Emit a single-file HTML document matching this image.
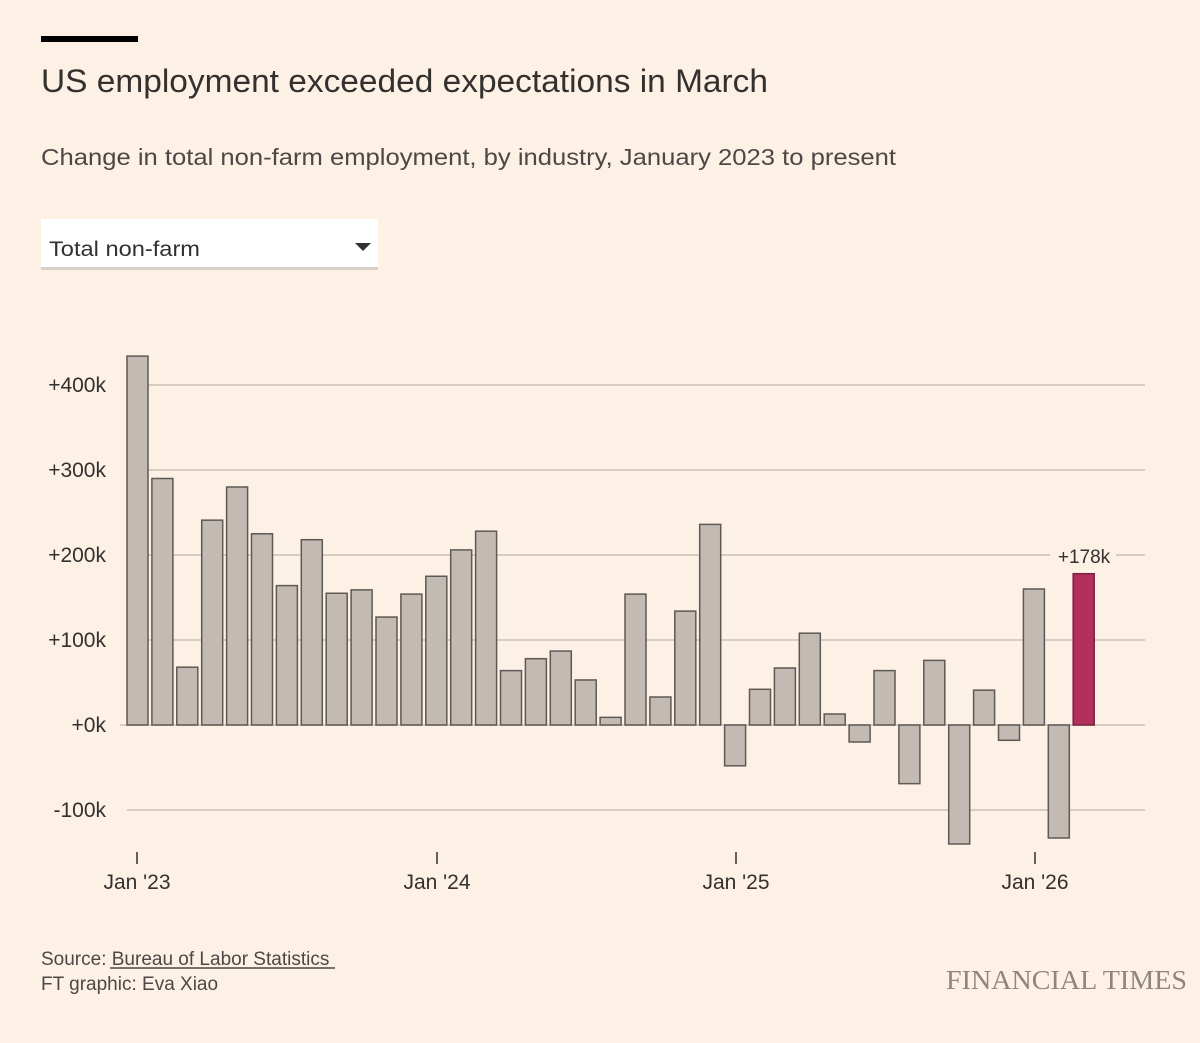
<!DOCTYPE html>
<html><head><meta charset="utf-8"><style>
html,body{margin:0;padding:0;background:#fdf1e6;}
svg{display:block;}
text{font-family:"Liberation Sans",sans-serif;fill:#33302e;}
</style></head><body>
<svg width="1200" height="1043" viewBox="0 0 1200 1043" xmlns="http://www.w3.org/2000/svg">
<rect width="1200" height="1043" fill="#fdf1e6"/>
<rect x="41" y="36" width="97" height="6" fill="#000"/>
<text x="41" y="92" font-size="32" textLength="727" lengthAdjust="spacingAndGlyphs">US employment exceeded expectations in March</text>
<text x="41" y="165" font-size="23" textLength="855" lengthAdjust="spacingAndGlyphs" style="fill:#4d4845">Change in total non-farm employment, by industry, January 2023 to present</text>
<rect x="41" y="220" width="337" height="50" fill="#d8d0c8"/>
<rect x="41" y="219" width="337" height="48" fill="#ffffff"/>
<text x="49" y="256" font-size="21" textLength="151" lengthAdjust="spacingAndGlyphs">Total non-farm</text>
<polygon points="355,243 371,243 363,251" fill="#33302e"/>
<g stroke="#d6ccc2" stroke-width="2">
<line x1="127" y1="385" x2="1145" y2="385"/>
<line x1="127" y1="470" x2="1145" y2="470"/>
<line x1="127" y1="555" x2="1145" y2="555"/>
<line x1="127" y1="640" x2="1145" y2="640"/>
<line x1="120" y1="725" x2="1145" y2="725"/>
<line x1="127" y1="810" x2="1145" y2="810"/>
</g>
<g font-size="21" text-anchor="end">
<text x="106" y="392">+400k</text>
<text x="106" y="477">+300k</text>
<text x="106" y="562">+200k</text>
<text x="106" y="647">+100k</text>
<text x="106" y="732">+0k</text>
<text x="106" y="817">-100k</text>
</g>
<g fill="#c3bbb3" stroke="#5e5954" stroke-width="1.5">
<rect x="127" y="356.1" width="21" height="368.9"/>
<rect x="151.9" y="478.5" width="21" height="246.5"/>
<rect x="176.8" y="667.2" width="21" height="57.8"/>
<rect x="201.7" y="520.15" width="21" height="204.85"/>
<rect x="226.6" y="487" width="21" height="238"/>
<rect x="251.5" y="533.75" width="21" height="191.25"/>
<rect x="276.4" y="585.6" width="21" height="139.4"/>
<rect x="301.3" y="539.7" width="21" height="185.3"/>
<rect x="326.2" y="593.25" width="21" height="131.75"/>
<rect x="351.1" y="589.85" width="21" height="135.15"/>
<rect x="376" y="617.05" width="21" height="107.95"/>
<rect x="400.9" y="594.1" width="21" height="130.9"/>
<rect x="425.8" y="576.25" width="21" height="148.75"/>
<rect x="450.7" y="549.9" width="21" height="175.1"/>
<rect x="475.6" y="531.2" width="21" height="193.8"/>
<rect x="500.5" y="670.6" width="21" height="54.4"/>
<rect x="525.4" y="658.7" width="21" height="66.3"/>
<rect x="550.3" y="651.05" width="21" height="73.95"/>
<rect x="575.2" y="679.95" width="21" height="45.05"/>
<rect x="600.1" y="717.35" width="21" height="7.65"/>
<rect x="625" y="594.1" width="21" height="130.9"/>
<rect x="649.9" y="697" width="21" height="28"/>
<rect x="674.8" y="611.1" width="21" height="113.9"/>
<rect x="699.7" y="524.4" width="21" height="200.6"/>
<rect x="724.6" y="725" width="21" height="40.8"/>
<rect x="749.5" y="689.3" width="21" height="35.7"/>
<rect x="774.4" y="668" width="21" height="57"/>
<rect x="799.3" y="633.2" width="21" height="91.8"/>
<rect x="824.2" y="714" width="21" height="11"/>
<rect x="849.1" y="725" width="21" height="17"/>
<rect x="874" y="670.6" width="21" height="54.4"/>
<rect x="898.9" y="725" width="21" height="58.65"/>
<rect x="923.8" y="660.4" width="21" height="64.6"/>
<rect x="948.7" y="725" width="21" height="119"/>
<rect x="973.6" y="690.15" width="21" height="34.85"/>
<rect x="998.5" y="725" width="21" height="15.3"/>
<rect x="1023.4" y="589" width="21" height="136"/>
<rect x="1048.3" y="725" width="21" height="113"/>
</g>
<rect x="1073.2" y="573.7" width="21" height="151.3" fill="#b3305c" stroke="#7a2040" stroke-width="1.5"/>
<rect x="1050" y="543" width="66" height="24" fill="#fdf1e6"/>
<text x="1084" y="563" font-size="19" text-anchor="middle">+178k</text>
<g stroke="#66605b" stroke-width="2">
<line x1="137" y1="852" x2="137" y2="864"/>
<line x1="437" y1="852" x2="437" y2="864"/>
<line x1="736" y1="852" x2="736" y2="864"/>
<line x1="1035" y1="852" x2="1035" y2="864"/>
</g>
<g font-size="21" text-anchor="middle">
<text x="137" y="889">Jan '23</text>
<text x="437" y="889">Jan '24</text>
<text x="736" y="889">Jan '25</text>
<text x="1035" y="889">Jan '26</text>
</g>
<text x="41" y="965" font-size="19" style="fill:#4d4845">Source: Bureau of Labor Statistics</text>
<line x1="110" y1="968" x2="335" y2="968" stroke="#4d4845" stroke-width="1.5"/>
<text x="41" y="990" font-size="19" style="fill:#4d4845">FT graphic: Eva Xiao</text>
<text x="1187" y="989" font-size="27" text-anchor="end" style="fill:#8f857c;font-family:'Liberation Serif',serif" textLength="241" lengthAdjust="spacingAndGlyphs">FINANCIAL TIMES</text>
</svg>
</body></html>
